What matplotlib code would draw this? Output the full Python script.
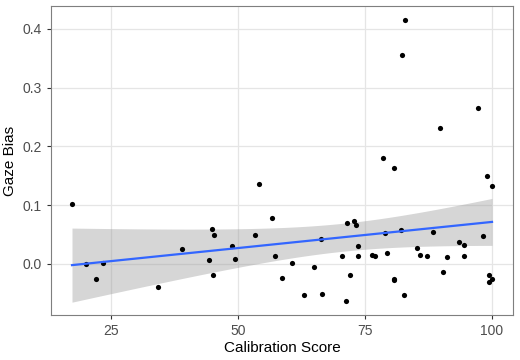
import matplotlib
matplotlib.use("Agg")
import matplotlib.pyplot as plt
import numpy as np

plt.rcParams['font.family'] = ['Liberation Sans', 'DejaVu Sans']

# calibration score vs gaze bias
calib = [17.3, 20.0, 22.1, 23.4, 34.2, 38.9, 44.2, 44.8, 45.2, 45.0,
         48.8, 49.4, 53.3, 54.2, 56.6, 57.2, 58.6, 60.7, 63.0, 64.9,
         66.3, 66.6, 70.4, 71.3, 71.5, 72.1, 72.8, 73.3, 73.6, 73.6,
         76.4, 77.0, 78.5, 79.0, 79.3, 80.7, 80.7, 80.8, 82.1, 82.3,
         82.6, 82.9, 85.3, 85.9, 87.2, 88.3, 89.7, 90.3, 91.1, 93.6,
         94.4, 94.4, 97.3, 98.2, 99.1, 99.5, 99.5, 100.0, 100.0]
bias = [0.102, 0.000, -0.026, 0.002, -0.040, 0.025, 0.006, 0.060, 0.049, -0.018,
        0.030, 0.009, 0.049, 0.136, 0.078, 0.014, -0.024, 0.001, -0.053, -0.005,
        0.042, -0.051, 0.013, -0.063, 0.070, -0.019, 0.073, 0.067, 0.031, 0.014,
        0.015, 0.014, 0.180, 0.053, 0.019, 0.163, -0.026, -0.028, 0.058, 0.355,
        -0.053, 0.415, 0.027, 0.015, 0.013, 0.055, 0.231, -0.014, 0.011, 0.038,
        0.033, 0.013, 0.265, 0.048, 0.150, -0.019, -0.030, 0.133, -0.026]

x = np.array(calib)
y = np.array(bias)

# linear fit with 95% confidence band (like geom_smooth(method='lm'))
n = len(x)
slope, intercept = np.polyfit(x, y, 1)
xs = np.linspace(x.min(), x.max(), 200)
ys = intercept + slope * xs
resid = y - (intercept + slope * x)
s = np.sqrt(np.sum(resid ** 2) / (n - 2))
se = s * np.sqrt(1 / n + (xs - x.mean()) ** 2 / np.sum((x - x.mean()) ** 2))
tval = 2.002  # t(0.975, df=57)

fig = plt.figure(figsize=(5.2, 3.6), dpi=100)
ax = fig.add_axes([51 / 520, 45 / 360, 462 / 520, 309 / 360])

ax.fill_between(xs, ys - tval * se, ys + tval * se, color='#999999', alpha=0.4,
                linewidth=0, zorder=2)
ax.scatter(x, y, s=14, color='black', zorder=3, linewidths=0)
ax.plot(xs, ys, color='#3366FF', lw=1.6, zorder=4)

xr = x.max() - x.min()
yr = y.max() - y.min()
ax.set_xlim(x.min() - 0.05 * xr, x.max() + 0.05 * xr)
ax.set_ylim(y.min() - 0.05 * yr, y.max() + 0.05 * yr)
ax.set_xticks([25, 50, 75, 100])
ax.set_yticks([0.0, 0.1, 0.2, 0.3, 0.4])
ax.set_yticklabels(['0.0', '0.1', '0.2', '0.3', '0.4'])

ax.grid(color='#E5E5E5', lw=0.9)
ax.set_axisbelow(True)
for sp in ax.spines.values():
    sp.set_color('#7F7F7F')
    sp.set_linewidth(0.8)
ax.tick_params(colors='#333333', labelsize=10, length=3, width=0.8,
               labelcolor='#4D4D4D')

ax.set_xlabel('Calibration Score', fontsize=11, labelpad=2)
ax.set_ylabel('Gaze Bias', fontsize=11, labelpad=4)

fig.savefig('out.png', dpi=100)
